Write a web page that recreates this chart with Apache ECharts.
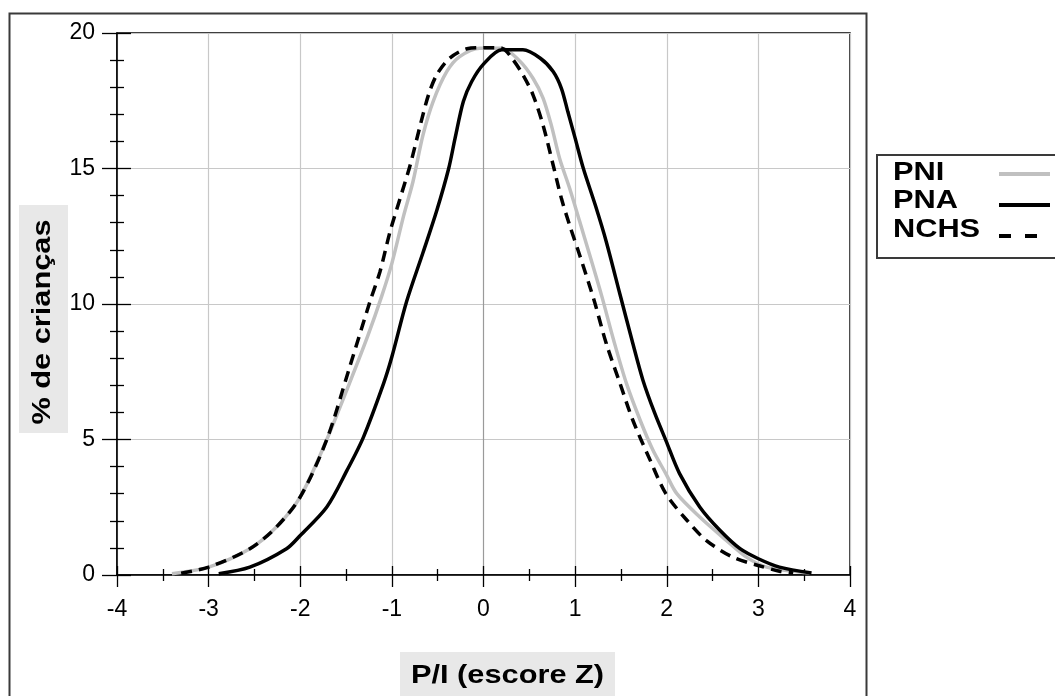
<!DOCTYPE html>
<html>
<head>
<meta charset="utf-8">
<script src="https://cdn.jsdelivr.net/npm/echarts@6/dist/echarts.min.js"></script>
<style>
html,body{margin:0;padding:0;background:#fff;}
#chart{width:1055px;height:696px;}
</style>
</head>
<body>
<div id="chart"></div>
<script>
// ---- data (z-score, % of children) ----
const seriesNames = ['PNI', 'PNA', 'NCHS'];
const xTicks = ['-4', '-3', '-2', '-1', '0', '1', '2', '3', '4'];
const yTicks = ['0', '5', '10', '15', '20'];
const xTitle = 'P/I (escore Z)';
const yTitle = '% de crianças';

const pniPoints = [[-3.4,0.05],[-3.0,0.29],[-2.55,0.97],[-2.26,1.77],[-2.0,2.88],[-1.71,5.0],[-1.46,7.1],[-1.26,8.85],[-1.11,10.3],[-1.0,11.5],[-0.87,13.28],[-0.77,14.51],[-0.66,16.24],[-0.55,17.47],[-0.40,18.58],[-0.26,19.13],[-0.04,19.44],[0.2,19.44],[0.40,18.95],[0.54,18.33],[0.65,17.6],[0.74,16.6],[0.83,15.38],[0.94,14.27],[1.05,13.04],[1.16,11.8],[1.29,10.3],[1.42,8.67],[1.56,7.07],[1.71,5.71],[1.85,4.6],[1.99,3.74],[2.11,3.0],[2.36,2.14],[2.65,1.28],[2.87,0.66],[3.09,0.29],[3.45,0.11],[3.56,0.08]];

const pnaPoints = [[-2.89,0.05],[-2.55,0.29],[-2.15,0.97],[-2.0,1.46],[-1.71,2.51],[-1.49,3.86],[-1.31,5.09],[-1.09,7.07],[-1.0,8.05],[-0.84,10.08],[-0.66,11.9],[-0.51,13.45],[-0.38,15.0],[-0.31,16.12],[-0.22,17.47],[-0.13,18.2],[0.0,18.85],[0.2,19.38],[0.43,19.38],[0.62,19.07],[0.76,18.58],[0.85,17.96],[0.92,17.1],[1.0,16.12],[1.09,15.0],[1.22,13.65],[1.34,12.3],[1.49,10.35],[1.62,8.67],[1.74,7.19],[1.87,5.96],[1.99,4.97],[2.14,3.74],[2.36,2.51],[2.58,1.65],[2.80,0.97],[3.0,0.60],[3.23,0.29],[3.58,0.07]];

const nchsPoints = [[-3.3,0.07],[-3.0,0.29],[-2.55,0.97],[-2.26,1.77],[-2.0,2.88],[-1.71,5.0],[-1.46,7.68],[-1.24,10.08],[-1.13,11.19],[-1.02,12.67],[-0.91,13.9],[-0.80,15.13],[-0.69,16.6],[-0.60,17.72],[-0.51,18.46],[-0.37,19.07],[-0.18,19.42],[0.0,19.46],[0.2,19.44],[0.31,19.07],[0.43,18.46],[0.54,17.72],[0.65,16.6],[0.76,15.13],[0.85,13.9],[0.94,12.91],[1.05,11.8],[1.21,10.1],[1.34,8.54],[1.49,7.07],[1.63,5.71],[1.82,4.23],[1.99,3.0],[2.22,2.02],[2.43,1.28],[2.72,0.66],[3.0,0.35],[3.23,0.14],[3.38,0.07]];

// ---- styling ----
const FONT = '"Liberation Sans", Arial, Helvetica, sans-serif';
const colors = { PNI: '#c0c0c0', PNA: '#000000', NCHS: '#000000' };
const dashes = { PNI: 'solid', PNA: 'solid', NCHS: [11, 7] };
const allPoints = { PNI: pniPoints, PNA: pnaPoints, NCHS: nchsPoints };
const STRETCH = 1.23;

const xSplitColors = xTicks.map(t => t === '0' ? '#9a9a9a' : '#c8c8c8');

const chart = echarts.init(document.getElementById('chart'), null, { renderer: 'canvas' });

const tickStyle = { color: '#000', width: 1.3 };

const option = {
  animation: false,
  backgroundColor: '#fff',
  grid: {
    left: 117, right: 205, top: 33, bottom: 121,
    show: true, borderColor: '#000', borderWidth: 1.5, backgroundColor: 'transparent'
  },
  xAxis: [
    {
      type: 'value', min: -4, max: 4, interval: 1, position: 'bottom',
      axisLine: { show: true, onZero: false, lineStyle: { color: '#000', width: 1.5 } },
      axisTick: { show: true, inside: false, length: 12, lineStyle: tickStyle },
      minorTick: { show: true, splitNumber: 2, length: 6, lineStyle: tickStyle },
      axisLabel: {
        color: '#000', fontSize: 23, fontFamily: FONT, margin: 23,
        formatter: v => xTicks[Math.round(v) + 4]
      },
      splitLine: { show: true, lineStyle: { color: xSplitColors, width: 1.2 } },
      minorSplitLine: { show: false }
    },
    {
      type: 'value', min: -4, max: 4, interval: 1, position: 'bottom',
      axisLine: { show: false, onZero: false },
      axisTick: { show: true, inside: true, length: 9, lineStyle: tickStyle },
      minorTick: { show: true, splitNumber: 2, length: 6, lineStyle: tickStyle },
      axisLabel: { show: false },
      splitLine: { show: false }
    }
  ],
  yAxis: [
    {
      type: 'value', min: 0, max: 20, interval: 5, position: 'left',
      axisLine: { show: true, onZero: false, lineStyle: { color: '#000', width: 1.5 } },
      axisTick: { show: true, inside: false, length: 15, lineStyle: tickStyle },
      minorTick: { show: true, splitNumber: 5, length: 7, lineStyle: tickStyle },
      axisLabel: {
        color: '#000', fontSize: 23, fontFamily: FONT, margin: 22,
        formatter: v => yTicks[Math.round(v / 5)]
      },
      splitLine: { show: true, lineStyle: { color: '#c8c8c8', width: 1.2 } }
    },
    {
      type: 'value', min: 0, max: 20, interval: 5, position: 'left',
      axisLine: { show: false, onZero: false },
      axisTick: { show: true, inside: true, length: 14, lineStyle: tickStyle },
      minorTick: { show: true, splitNumber: 5, length: 7, lineStyle: tickStyle },
      axisLabel: { show: false },
      splitLine: { show: false }
    }
  ],
  series: seriesNames.map(name => ({
    name: name,
    type: 'line',
    xAxisIndex: 0, yAxisIndex: 0,
    data: allPoints[name],
    showSymbol: false, symbol: 'none',
    smooth: 0.3,
    lineStyle: { color: colors[name], width: 3.5, type: dashes[name] },
    itemStyle: { color: colors[name] },
    z: 3
  })),
  graphic: [
    // outer frame
    { type: 'rect', shape: { x: 9.5, y: 13.5, width: 857, height: 700 },
      style: { fill: 'none', stroke: '#3a3a3a', lineWidth: 2 }, z: 0, silent: true },
    // y title background + text
    { type: 'rect', shape: { x: 19, y: 205, width: 49, height: 228 },
      style: { fill: '#e8e8e8' }, z: 1, silent: true },
    { type: 'text', x: 43.5, y: 322, rotation: Math.PI / 2, scaleX: STRETCH, scaleY: 1,
      style: { text: yTitle, font: 'bold 25px ' + FONT, fill: '#000', align: 'center', verticalAlign: 'middle' }, z: 2 },
    // x title background + text
    { type: 'rect', shape: { x: 400, y: 652, width: 215, height: 50 },
      style: { fill: '#e8e8e8' }, z: 1, silent: true },
    { type: 'text', x: 507.5, y: 676, scaleX: STRETCH, scaleY: 1,
      style: { text: xTitle, font: 'bold 25px ' + FONT, fill: '#000', align: 'center', verticalAlign: 'middle' }, z: 2 },
    // legend box
    { type: 'rect', shape: { x: 877, y: 155, width: 200, height: 103 },
      style: { fill: '#fff', stroke: '#3a3a3a', lineWidth: 2 }, z: 1, silent: true },
    ...seriesNames.map((name, i) => ({
      type: 'text', x: 893, y: 173 + i * 28.5, scaleX: STRETCH, scaleY: 1,
      style: { text: name, font: 'bold 25px ' + FONT, fill: '#000', align: 'left', verticalAlign: 'middle' }, z: 2
    })),
    ...seriesNames.map((name, i) => ({
      type: 'line', shape: { x1: 999, y1: 174 + i * 31, x2: 1050, y2: 174 + i * 31 },
      style: { stroke: colors[name], lineWidth: 4, lineDash: name === 'NCHS' ? [12, 14] : null }, z: 2
    }))
  ]
};
chart.setOption(option);
</script>
</body>
</html>
